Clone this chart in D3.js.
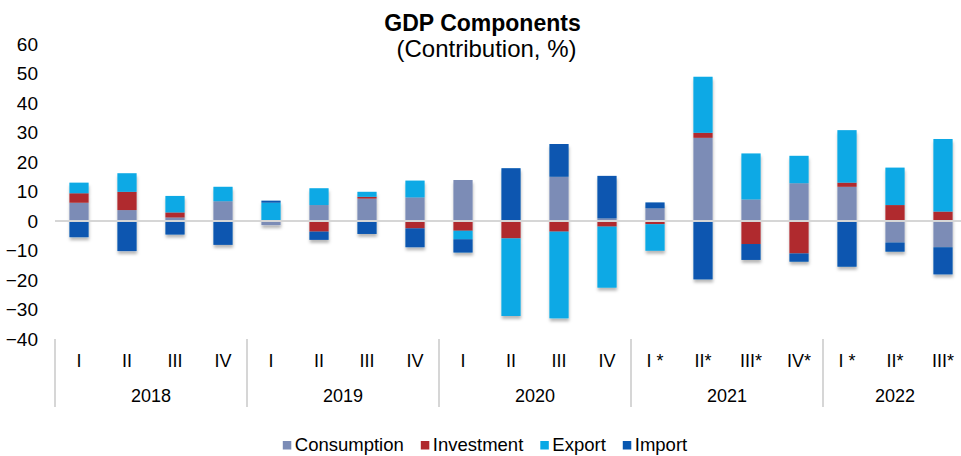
<!DOCTYPE html>
<html>
<head>
<meta charset="utf-8">
<script src="https://cdn.jsdelivr.net/npm/d3@7"></script>
<style>
  html, body { margin: 0; padding: 0; background: #fff; }
  svg { display: block; font-family: "Liberation Sans", Arial, sans-serif; }
</style>
</head>
<body>
<svg id="chart" width="961" height="456"></svg>
<script>
// ---- data ----
const quarters = ["I","II","III","IV","I","II","III","IV","I","II","III","IV","I *","II*","III*","IV*","I *","II*","III*"];
const years = ["2018","2019","2020","2021","2022"];
const yearQuarterCounts = [4, 4, 4, 4, 3];
const seriesNames = ["Consumption","Investment","Export","Import"];
const consumption = [6.2, 3.7, 1.2, 6.7, -1.4, 5.4, 7.6, 8.0, 13.9, 0, 15.0, 0.9, 4.3, 28.2, 7.3, 12.8, 11.6, -7.3, -8.9];
const investment  = [3.2, 6.2, 1.7, 0, 0, -3.6, 0.6, -2.5, -3.3, -5.9, -3.6, -1.9, -1.1, 1.7, -7.8, -11.0, 1.4, 5.4, 3.2];
const exports_    = [3.6, 6.3, 5.6, 4.9, 6.2, 5.7, 1.7, 5.7, -2.9, -26.3, -29.4, -20.7, -9.0, 19.0, 15.6, 9.3, 17.8, 12.7, 24.6];
const imports_    = [-5.5, -10.2, -4.6, -8.1, 0.7, -2.8, -4.4, -6.4, -4.5, 17.9, 11.1, 14.4, 2.0, -19.8, -5.4, -2.8, -15.5, -3.1, -9.2];
const yTicks = [-40, -30, -20, -10, 0, 10, 20, 30, 40, 50, 60];
const titleText = "GDP Components";
const subtitleText = "(Contribution, %)";

// ---- build table ----
const seriesValues = [consumption, investment, exports_, imports_];
const table = quarters.map((q, i) => {
  const row = { idx: i };
  seriesNames.forEach((s, k) => row[s] = seriesValues[k][i]);
  return row;
});
const colors = { Consumption: "#7b8cb6", Investment: "#b0292d", Export: "#09a9e5", Import: "#0857b0" };

const svg = d3.select("#chart");
const left = 55, step = 48;
const x = d3.scaleBand().domain(d3.range(quarters.length))
  .range([left, left + step * quarters.length]).paddingInner(0.6).paddingOuter(0.3);
const y = d3.scaleLinear().domain([-40, 60]).range([339, 44]);

const defs = svg.append("defs");
const f = defs.append("filter").attr("id", "shadow").attr("x", "-30%").attr("y", "-30%").attr("width", "160%").attr("height", "160%");
f.append("feDropShadow").attr("dx", 0.5).attr("dy", 3).attr("stdDeviation", 1.6)
  .attr("flood-color", "#000").attr("flood-opacity", 0.28);

// title
svg.append("text").attr("x", 482.5).attr("y", 31).attr("text-anchor", "middle")
  .attr("font-size", 23).attr("font-weight", "bold").attr("fill", "#000").text(titleText);
svg.append("text").attr("x", 486.5).attr("y", 57).attr("text-anchor", "middle")
  .attr("font-size", 24).attr("fill", "#000").text(subtitleText);

// y axis labels
const yAxis = d3.axisLeft(y).tickValues(yTicks).tickSize(0).tickPadding(0).tickFormat(d3.format("d"));
const yg = svg.append("g").attr("transform", "translate(38,0)").call(yAxis);
yg.select(".domain").remove();
yg.selectAll("text").attr("font-size", 19).attr("fill", "#000")
  .attr("font-family", "\"Liberation Sans\", Arial, sans-serif");

// bars
const stack = d3.stack().keys(seriesNames).offset(d3.stackOffsetDiverging);
const stacked = stack(table);
const barsG = svg.append("g").attr("filter", "url(#shadow)");
barsG.selectAll("g").data(stacked).join("g")
  .attr("fill", d => colors[d.key])
  .selectAll("rect").data(d => d).join("rect")
  .attr("x", d => x(d.data.idx))
  .attr("width", x.bandwidth())
  .attr("y", d => y(Math.max(d[0], d[1])))
  .attr("height", d => Math.abs(y(d[0]) - y(d[1])));

// zero line
svg.append("line").attr("x1", left).attr("x2", 961).attr("y1", y(0)).attr("y2", y(0))
  .attr("stroke", "#d6d6d6").attr("stroke-width", 2);

// x axis: quarter labels
const xAxis = d3.axisBottom(x).tickSize(0).tickPadding(0).tickFormat(i => quarters[i]);
const xg = svg.append("g").attr("transform", "translate(0,353)").call(xAxis);
xg.select(".domain").remove();
xg.selectAll("text").attr("font-size", 18).attr("fill", "#000").attr("dy", "0.75em")
  .attr("font-family", "\"Liberation Sans\", Arial, sans-serif");

// year groups
let start = 0;
const yearInfo = years.map((yr, k) => {
  const info = { yr, s: start, n: yearQuarterCounts[k] };
  start += yearQuarterCounts[k];
  return info;
});
const groupX = d => left + step * d;
svg.append("g").selectAll("line").data(yearInfo).join("line")
  .attr("x1", d => groupX(d.s)).attr("x2", d => groupX(d.s))
  .attr("y1", 339).attr("y2", 407)
  .attr("stroke", "#d6d6d6").attr("stroke-width", 2);
svg.append("g").selectAll("text").data(yearInfo).join("text")
  .attr("x", d => groupX(d.s + d.n / 2)).attr("y", 402)
  .attr("text-anchor", "middle").attr("font-size", 18).attr("fill", "#000")
  .text(d => d.yr);

// legend
const lg = svg.append("g");
const items = lg.selectAll("g").data(seriesNames).join("g");
items.append("rect").attr("width", 8.5).attr("height", 8.5).attr("y", 441).attr("fill", d => colors[d]);
items.append("text").attr("x", 12).attr("y", 451).attr("font-size", 18.5).attr("fill", "#000").text(d => d);
let cx = 0;
const widths = [];
items.each(function () { widths.push(12 + this.querySelector("text").getComputedTextLength()); });
const gap = 17;
const total = d3.sum(widths) + gap * (widths.length - 1);
cx = 485 - total / 2;
items.attr("transform", (d, i) => {
  const t = `translate(${cx},0)`;
  cx += widths[i] + gap;
  return t;
});
</script>
</body>
</html>
